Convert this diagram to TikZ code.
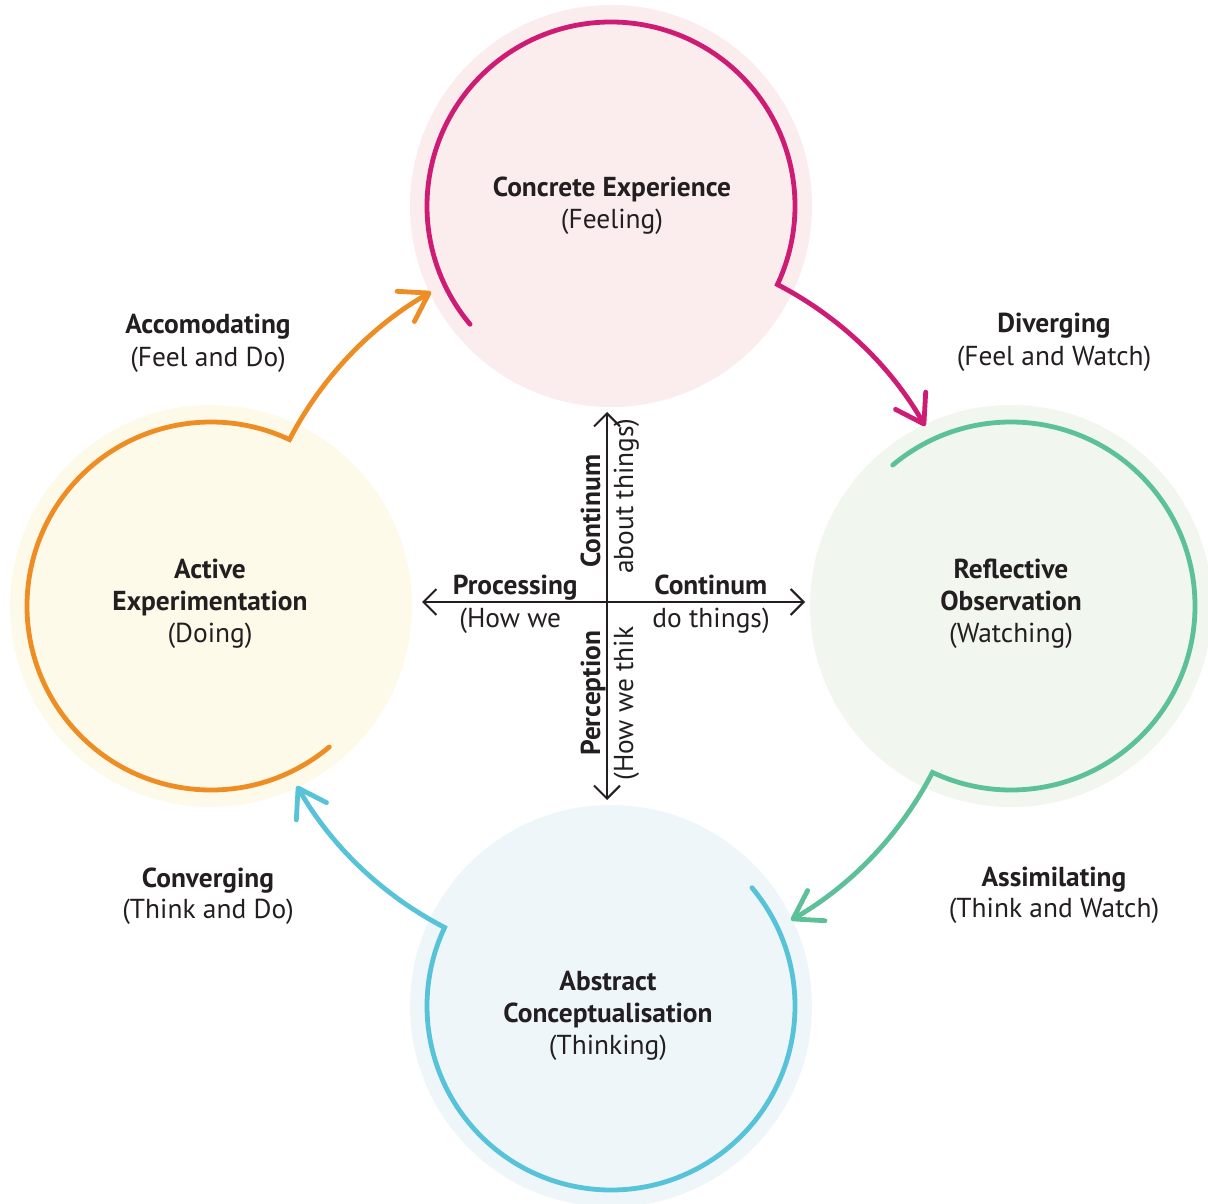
\documentclass[tikz,border=0pt]{standalone}
\usepackage{fontspec}
\setmainfont{PT Sans}
\usetikzlibrary{arrows.meta}
\definecolor{txt}{HTML}{231F20}
\definecolor{cmag}{HTML}{CE1B73}
\definecolor{cgreen}{HTML}{5CC199}
\definecolor{ccyan}{HTML}{56C3D8}
\definecolor{corange}{HTML}{EE8D23}
\definecolor{fpink}{HTML}{FBEDED}
\definecolor{fgreen}{HTML}{F1F7EF}
\definecolor{fblue}{HTML}{EFF6FA}
\definecolor{fyellow}{HTML}{FEFAEA}
\tikzset{
  disk/.style={circle, draw=none, minimum size=201pt, inner sep=0pt},
  cyc/.style={line width=2.4pt, line cap=round, line join=miter,
    arrows={-Straight Barb[round,length=13.4pt,width=17.4pt]}},
  axisline/.style={line width=1pt, draw=txt,
    arrows={Straight Barb[length=6.5pt,width=13pt]-Straight Barb[length=6.5pt,width=13pt]}},
  ttl/.style={font=\fontsize{13.7pt}{16pt}\selectfont\bfseries, text=txt, inner sep=0pt, anchor=base},
  sub/.style={font=\fontsize{13.7pt}{16pt}\selectfont, text=txt, inner sep=0pt, anchor=base},
}
\begin{document}
\begin{tikzpicture}[x=0.5pt,y=0.5pt]
\useasboundingbox (0,0) rectangle (1208,-1203);
\fill[white] (0,0) rectangle (1208,-1203);
% centres
\coordinate (O) at (611,-606);
\coordinate (T) at (611,-206);
\coordinate (R) at (1011,-606);
\coordinate (B) at (611,-1006);
\coordinate (L) at (211,-606);
% background disks
\node[disk, fill=fpink] (CEdisk) at (T) {};
\node[disk, fill=fgreen] (ROdisk) at (R) {};
\node[disk, fill=fblue] (ACdisk) at (B) {};
\node[disk, fill=fyellow] (AEdisk) at (L) {};
% cycle strokes with arrows
\draw[cyc, cmag] (T) ++(220:184) arc[start angle=220, end angle=-25.26, radius=184]
   arc[start angle=62.63, end angle=29.8, radius=362];
\draw[cyc, cgreen] (R) ++(130:184) arc[start angle=130, end angle=-115.26, radius=184]
   arc[start angle=-27.37, end angle=-60.2, radius=362];
\draw[cyc, ccyan] (B) ++(40:184) arc[start angle=40, end angle=-205.26, radius=184]
   arc[start angle=-117.37, end angle=-150.2, radius=362];
\draw[cyc, corange] (L) ++(-50:184) arc[start angle=-50, end angle=-295.26, radius=184]
   arc[start angle=152.63, end angle=119.8, radius=362];
% circle labels
\node[ttl] (CEt) at (612,-197) {Concrete Experience};
\node[sub] (CEs) at (612,-229) {(Feeling)};
\node[ttl] (ROt1) at (1011,-578) {Reflective};
\node[ttl] (ROt2) at (1011,-610) {Observation};
\node[sub] (ROs) at (1011,-642) {(Watching)};
\node[ttl] (ACt1) at (608,-990) {Abstract};
\node[ttl] (ACt2) at (608,-1022) {Conceptualisation};
\node[sub] (ACs) at (608,-1054) {(Thinking)};
\node[ttl] (AEt1) at (210,-578) {Active};
\node[ttl] (AEt2) at (210,-610) {Experimentation};
\node[sub] (AEs) at (210,-642) {(Doing)};
% style labels
\node[ttl] (ACCt) at (208,-334) {Accomodating};
\node[sub] (ACCs) at (208,-366) {(Feel and Do)};
\node[ttl] (DIVt) at (1054,-333) {Diverging};
\node[sub] (DIVs) at (1054,-365) {(Feel and Watch)};
\node[ttl] (CONt) at (208,-887) {Converging};
\node[sub] (CONs) at (208,-918) {(Think and Do)};
\node[ttl] (ASSt) at (1054,-886) {Assimilating};
\node[sub] (ASSs) at (1054,-917) {(Think and Watch)};
% axes
\coordinate (axN) at (607,-412);
\coordinate (axS) at (607,-800);
\coordinate (axW) at (422,-602);
\coordinate (axE) at (805,-602);
\draw[axisline] (axS) -- (axN);
\draw[axisline] (axW) -- (axE);
\node[ttl, anchor=base east] (procT) at (578,-594) {Processing};
\node[sub, anchor=base west] (procS) at (459,-627) {(How we};
\node[ttl, anchor=base west] (contT) at (654,-594) {Continum};
\node[sub, anchor=base west] (contS) at (652,-627) {do things)};
\node[ttl, anchor=base west, rotate=90] (vcontT) at (600,-568) {Continum};
\node[sub, anchor=base west, rotate=90] (vcontS) at (633,-574) {about things)};
\node[ttl, anchor=base west, rotate=90] (percT) at (600,-756) {Perception};
\node[sub, anchor=base west, rotate=90] (percS) at (633,-781) {(How we thik};
\end{tikzpicture}
\end{document}
